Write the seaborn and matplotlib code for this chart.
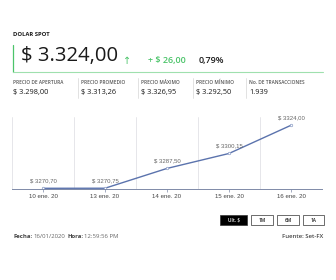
import matplotlib
matplotlib.use("Agg")
import matplotlib.pyplot as plt
import seaborn as sns
import pandas as pd
from matplotlib.patches import Rectangle
from matplotlib.lines import Line2D

dates = ["10 ene. 20", "13 ene. 20", "14 ene. 20", "15 ene. 20", "16 ene. 20"]
prices = [3270.70, 3270.75, 3287.50, 3300.15, 3324.00]
price_labels = ["$ 3270,70", "$ 3270,75", "$ 3287,50", "$ 3300,15", "$ 3324,00"]
stat_names = ["PRECIO DE APERTURA", "PRECIO PROMEDIO", "PRECIO MÁXIMO", "PRECIO MÍNIMO", "No. DE TRANSACCIONES"]
stat_values = ["$ 3.298,00", "$ 3.313,26", "$ 3.326,95", "$ 3.292,50", "1.939"]
buttons = ["Ult. $", "1M", "6M", "1A"]

sns.set_theme(style="white")
plt.rcParams['font.family'] = ['Open Sans', 'DejaVu Sans']

W, H = 336, 280
fig = plt.figure(figsize=(W / 100, H / 100), dpi=100)
fig.patch.set_facecolor("white")

def fx(x):
    return x / W

def fy(y):
    return 1 - y / H

GREEN = "#4cc46a"
DARK = "#1a1a1a"

# Header
fig.text(fx(13), fy(35), "DOLAR SPOT", fontsize=4.2, fontweight="bold", color=DARK, va="center", ha="left")
fig.add_artist(Line2D([fx(13), fx(13)], [fy(45), fy(72)], color=GREEN, lw=0.9, transform=fig.transFigure))
fig.add_artist(Line2D([fx(13), fx(323)], [fy(72), fy(72)], color="#9fe0ae", lw=0.8, transform=fig.transFigure))
fig.text(fx(21), fy(56), "$ 3.324,00", fontsize=14.6, color=DARK, va="center", ha="left")
fig.text(fx(127), fy(61), "↑", fontsize=7, color=GREEN, va="center", ha="center", family=['DejaVu Sans'])
fig.text(fx(148), fy(61), "+ $ 26,00", fontsize=6.5, color=GREEN, va="center", ha="left", fontweight="semibold")
fig.text(fx(199), fy(61), "0,79%", fontsize=6.5, color=DARK, va="center", ha="left", fontweight="semibold")

# Stats row
stat_x = [13, 81, 141, 196, 249]
for i, (n, v) in enumerate(zip(stat_names, stat_values)):
    fig.text(fx(stat_x[i]), fy(82), n, fontsize=3.4, color="#555555", va="center", ha="left", fontweight="semibold")
    fig.text(fx(stat_x[i]), fy(93), v, fontsize=5.3, color=DARK, va="center", ha="left")
    if i > 0:
        fig.add_artist(Line2D([fx(stat_x[i] - 3), fx(stat_x[i] - 3)], [fy(78), fy(98)],
                              color="#dddddd", lw=0.6, transform=fig.transFigure))

# Chart
ax = fig.add_axes([fx(12), fy(189), fx(322 - 12), (189 - 117) / H])
df = pd.DataFrame({"idx": range(len(dates)), "price": prices})
sns.lineplot(data=df, x="idx", y="price", ax=ax, color="#5b73ad", lw=1.0,
             marker="o", markersize=1.8, markerfacecolor="white", markeredgecolor="#8a9cc6", markeredgewidth=0.5)
ax.set_xlim(-0.5, 4.5)
ax.set_ylim(3270.1, 3331)
for b in [-0.5, 0.5, 1.5, 2.5, 3.5]:
    ax.axvline(b, color="#e2e2e6", lw=0.6, zorder=0)
for i, (p, lab) in enumerate(zip(prices, price_labels)):
    ax.annotate(lab, (i, p), xytext=(0, 3.5), textcoords="offset points", ha="center", va="bottom",
                fontsize=4.3, color="#666666", family=['Liberation Sans'])
for s in ["top", "right", "left"]:
    ax.spines[s].set_visible(False)
ax.spines["bottom"].set_color("#7e8aa8")
ax.spines["bottom"].set_linewidth(0.7)
ax.set_xticks(range(len(dates)))
ax.set_xticklabels(dates, fontsize=4.4, color="#444444", family=['Liberation Sans'])
ax.tick_params(axis="x", length=2, width=0.5, color="#7e8aa8", pad=1.5, bottom=True)
ax.set_yticks([])
ax.set_xlabel("")
ax.set_ylabel("")
ax.set_facecolor("white")

# Buttons
btn_x = [(220, 247), (251, 273), (277, 299), (303, 324)]
for lab, (x0, x1) in zip(buttons, btn_x):
    active = lab == buttons[0]
    rect = Rectangle((fx(x0), fy(225)), fx(x1 - x0), 10 / H, transform=fig.transFigure,
                     facecolor="black" if active else "white", edgecolor="#333333", lw=0.5)
    fig.add_artist(rect)
    fig.text(fx((x0 + x1) / 2), fy(220), lab, fontsize=3.4, color="white" if active else DARK,
             ha="center", va="center", fontweight="semibold")

# Footer
fig.text(fx(13), fy(237), "Fecha:", fontsize=4.3, color="#444444", fontweight="bold", ha="left", va="center")
fig.text(fx(33), fy(237), "16/01/2020", fontsize=4.3, color="#666666", ha="left", va="center")
fig.text(fx(67), fy(237), "Hora:", fontsize=4.3, color="#444444", fontweight="bold", ha="left", va="center")
fig.text(fx(84), fy(237), "12:59:56 PM", fontsize=4.3, color="#666666", ha="left", va="center")
fig.text(fx(323), fy(237), "Fuente: Set-FX", fontsize=4.3, color="#444444", ha="right", va="center", fontweight="semibold")

fig.savefig("out.png", dpi=100, facecolor="white")
